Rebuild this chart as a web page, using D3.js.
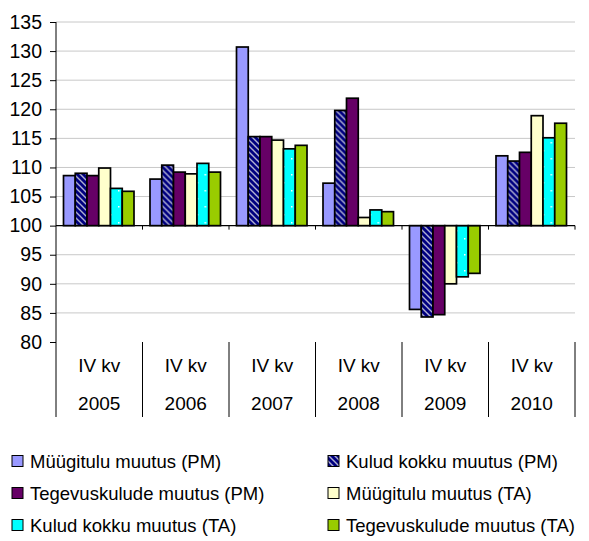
<!DOCTYPE html>
<html>
<head>
<meta charset="utf-8">
<script src="https://cdn.jsdelivr.net/npm/d3@7"></script>
<style>
  body { margin: 0; background: #fff; }
  svg { display: block; font-family: "Liberation Sans", Arial, sans-serif; }
</style>
</head>
<body>
<svg width="589" height="541"></svg>
<script>
// Categories (quarter + year) and series
const years = ["2005", "2006", "2007", "2008", "2009", "2010"];
const quarterLabel = "IV kv";
const seriesNames = [
    "Müügitulu muutus (PM)",
    "Kulud kokku muutus (PM)",
    "Tegevuskulude muutus (PM)",
    "Müügitulu muutus (TA)",
    "Kulud kokku muutus (TA)",
    "Tegevuskulude muutus (TA)"
];
// Values per series, one per year
const myygituluPM = [108.6, 108.0, 130.7, 107.3, 85.6, 112.0];
const kuludPM = [109.0, 110.4, 115.3, 119.8, 84.3, 111.1];
const tegevusPM = [108.6, 109.2, 115.3, 121.9, 84.7, 112.6];
const myygituluTA = [109.9, 108.9, 114.7, 101.4, 90.0, 118.9];
const kuludTA = [106.4, 110.7, 113.2, 102.7, 91.2, 115.1];
const tegevusTA = [105.9, 109.2, 113.8, 102.4, 91.8, 117.6];
const yTicks = [80, 85, 90, 95, 100, 105, 110, 115, 120, 125, 130, 135];

const allSeries = [myygituluPM, kuludPM, tegevusPM, myygituluTA, kuludTA, tegevusTA];
const fills = ["#9999ff", "url(#stripes)", "#660066", "#ffffcc", "url(#dots)", "#99cc00"];
const font = "Liberation Sans, Arial, sans-serif";

const svg = d3.select("svg");

// Patterns for the hatched and dotted series
const defs = svg.append("defs");
const stripes = defs.append("pattern")
    .attr("id", "stripes")
    .attr("patternUnits", "userSpaceOnUse")
    .attr("width", 6).attr("height", 6);
stripes.append("rect").attr("width", 6).attr("height", 6).attr("fill", "#000080");
stripes.append("path")
    .attr("d", "M-1,-1 L7,7 M-4,2 L1,7 M2,-4 L7,1")
    .attr("stroke", "#b0b0d0")
    .attr("stroke-width", 1.4);
const dots = defs.append("pattern")
    .attr("id", "dots")
    .attr("patternUnits", "userSpaceOnUse")
    .attr("width", 16).attr("height", 16);
dots.append("rect").attr("width", 16).attr("height", 16).attr("fill", "#00ffff");
dots.append("rect").attr("x", 6).attr("y", 6).attr("width", 1.5).attr("height", 1.5).attr("fill", "#fff");
dots.append("rect").attr("x", 14).attr("y", 14).attr("width", 1.5).attr("height", 1.5).attr("fill", "#fff");

const plotLeft = 56, plotRight = 575, plotTop = 22, plotBottom = 342, tableBottom = 417;

const x = d3.scaleBand().domain(years).range([plotLeft, plotRight]);
const xs = d3.scaleBand().domain(d3.range(seriesNames.length))
    .range([7.5, x.bandwidth() - 8.5]);
const y = d3.scaleLinear().domain([80, 135]).range([plotBottom, plotTop]);

// Gridlines
svg.append("g")
    .selectAll("line")
    .data(yTicks.filter(t => t !== 80 && t !== 100))
    .join("line")
    .attr("x1", plotLeft).attr("x2", plotRight)
    .attr("y1", d => y(d)).attr("y2", d => y(d))
    .attr("stroke", "#c8c8c8")
    .attr("stroke-width", 1);

// Bars from the 100 baseline
const groups = svg.append("g")
    .selectAll("g")
    .data(years)
    .join("g")
    .attr("transform", d => `translate(${x(d)},0)`);

groups.selectAll("rect")
    .data((d, i) => allSeries.map((s, k) => ({ k, v: s[i] })))
    .join("rect")
    .attr("x", d => xs(d.k))
    .attr("width", xs.bandwidth())
    .attr("y", d => y(Math.max(d.v, 100)))
    .attr("height", d => Math.abs(y(d.v) - y(100)))
    .attr("fill", d => fills[d.k])
    .attr("stroke", "#000")
    .attr("stroke-width", 1.7);

// Y axis
const yAxis = svg.append("g")
    .attr("transform", `translate(${plotLeft},0)`)
    .call(d3.axisLeft(y).tickValues(yTicks).tickSize(6).tickPadding(8).tickFormat(d3.format("d")));
yAxis.select(".domain").remove();
yAxis.selectAll(".tick line").attr("stroke", "#000");
yAxis.selectAll(".tick text")
    .attr("font-size", 19.5)
    .attr("font-family", font)
    .attr("fill", "#000");
svg.append("line")
    .attr("x1", plotLeft).attr("x2", plotLeft)
    .attr("y1", plotTop).attr("y2", tableBottom)
    .attr("stroke", "#000");

// X axis at 100 with ticks between categories
const xAxis = svg.append("g")
    .attr("transform", `translate(0,${y(100)})`);
xAxis.append("line")
    .attr("x1", plotLeft).attr("x2", plotRight)
    .attr("stroke", "#000").attr("stroke-width", 1.2);
xAxis.selectAll("line.tk")
    .data(years.slice(1).concat(["end"]))
    .join("line")
    .attr("class", "tk")
    .attr("x1", d => d === "end" ? plotRight : x(d))
    .attr("x2", d => d === "end" ? plotRight : x(d))
    .attr("y1", 0).attr("y2", 4)
    .attr("stroke", "#000");

// Category label table below the plot
const table = svg.append("g")
    .attr("font-family", font)
    .attr("font-size", 19);
table.selectAll("line")
    .data(years.slice(1).concat(["end"]))
    .join("line")
    .attr("x1", d => d === "end" ? plotRight : x(d))
    .attr("x2", d => d === "end" ? plotRight : x(d))
    .attr("y1", plotBottom).attr("y2", tableBottom)
    .attr("stroke", "#000");
table.selectAll("text.q")
    .data(years)
    .join("text")
    .attr("class", "q")
    .attr("x", d => x(d) + x.bandwidth() / 2)
    .attr("y", 372)
    .attr("text-anchor", "middle")
    .text(quarterLabel);
table.selectAll("text.yr")
    .data(years)
    .join("text")
    .attr("class", "yr")
    .attr("x", d => x(d) + x.bandwidth() / 2)
    .attr("y", 410)
    .attr("text-anchor", "middle")
    .text(d => d);

// Legend, two columns
const legend = svg.append("g")
    .attr("font-family", font)
    .selectAll("g")
    .data(seriesNames)
    .join("g")
    .attr("transform", (d, i) => `translate(${i % 2 === 0 ? 12 : 328},${461 + Math.floor(i / 2) * 32})`);
legend.append("rect")
    .attr("x", 0).attr("y", -5.5)
    .attr("width", 11).attr("height", 11)
    .attr("fill", (d, i) => fills[i])
    .attr("stroke", "#000")
    .attr("stroke-width", 1);
legend.append("text")
    .attr("x", 18)
    .attr("y", 7)
    .attr("font-size", 18.5)
    .text(d => d);
</script>
</body>
</html>
